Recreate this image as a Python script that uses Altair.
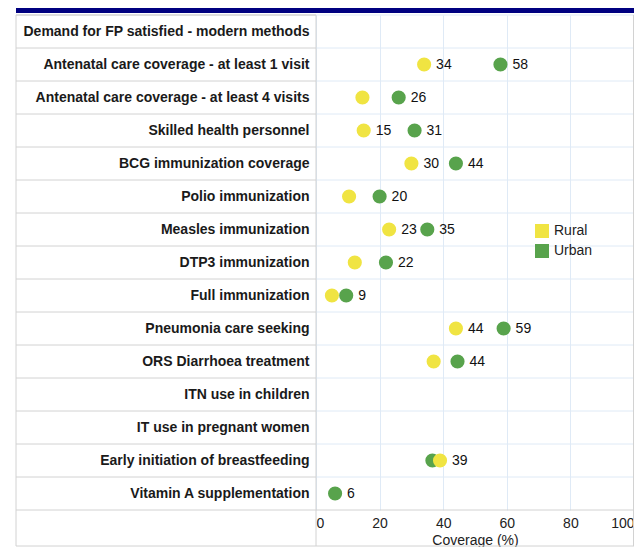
import altair as alt
import pandas as pd

categories = [
    "Demand for FP satisfied - modern methods",
    "Antenatal care coverage - at least 1 visit",
    "Antenatal care coverage - at least 4 visits",
    "Skilled health personnel",
    "BCG immunization coverage",
    "Polio immunization",
    "Measles immunization",
    "DTP3 immunization",
    "Full immunization",
    "Pneumonia care seeking",
    "ORS Diarrhoea treatment",
    "ITN use in children",
    "IT use in pregnant women",
    "Early initiation of breastfeeding",
    "Vitamin A supplementation",
]
rural = [None, 34, 14.6, 15, 30, 10.4, 23, 12.2, 5, 44, 37, None, None, 39, None]
urban = [None, 58, 26, 31, 44, 20, 35, 22, 9.5, 59, 44.5, None, None, 36.6, 6]
rural_labels = [None, "34", None, "15", "30", None, "23", None, None, "44", None, None, None, "39", None]
urban_labels = [None, "58", "26", "31", "44", "20", "35", "22", "9", "59", "44", None, None, None, "6"]
series = ["Rural", "Urban"]
colors = ["#F0E442", "#58A34C"]
x_ticks = [0, 20, 40, 60, 80, 100]

rows = []
for i, c in enumerate(categories):
    for s, vals, labs in (("Rural", rural, rural_labels), ("Urban", urban, urban_labels)):
        if vals[i] is not None:
            rows.append({"indicator": c, "series": s, "value": vals[i], "label": labs[i] or ""})
df = pd.DataFrame(rows)
cats_df = pd.DataFrame({"indicator": categories})
one = pd.DataFrame({"a": [0]})

W = 318
ROW = 33.0
H = round(ROW * len(categories))
LEFT = 300
BOTTOM = 37
FONT = "Liberation Sans"
FS = 14
GRAY = "#d2d2d2"
LIGHT = "#dfeaf6"

yenc = alt.Y(
    "indicator:N",
    sort=categories,
    scale=alt.Scale(domain=categories, paddingInner=0, paddingOuter=0),
    axis=alt.Axis(
        title=None, labelFont=FONT, labelFontWeight="bold", labelFontSize=FS,
        labelColor="#1a1a1a", labelPadding=7, ticks=False, domain=False,
        grid=False, labelLimit=320,
    ),
)
xenc = alt.X(
    "value:Q",
    scale=alt.Scale(domain=[0, 100], nice=False),
    axis=alt.Axis(
        values=x_ticks, title="Coverage (%)", labelFont=FONT, labelFontSize=FS,
        labelColor="#222222", labelFlush=True, ticks=False, domain=False,
        grid=True, gridColor=LIGHT, labelPadding=6, titleFont=FONT,
        titleFontSize=FS, titleFontWeight="normal", titleColor="#222222",
        titlePadding=3,
    ),
)

row_grid = alt.Chart(cats_df).mark_rule(color=LIGHT, strokeWidth=1).encode(
    y=alt.Y("indicator:N", sort=categories, bandPosition=0),
    x=alt.value(0), x2=alt.value(W),
)
row_left = alt.Chart(cats_df).mark_rule(color=GRAY, strokeWidth=1).encode(
    y=alt.Y("indicator:N", sort=categories, bandPosition=0),
    x=alt.value(-LEFT), x2=alt.value(0),
)
hlines = [
    alt.Chart(one).mark_rule(color=GRAY).encode(x=alt.value(-LEFT), x2=alt.value(W), y=alt.value(H)),
    alt.Chart(one).mark_rule(color=GRAY).encode(x=alt.value(-LEFT), x2=alt.value(W), y=alt.value(H + BOTTOM - 1)),
    alt.Chart(one).mark_rule(color=GRAY).encode(x=alt.value(-LEFT), x2=alt.value(0), y=alt.value(0)),
]
vlines = [
    alt.Chart(one).mark_rule(color=GRAY).encode(x=alt.value(xv), y=alt.value(0), y2=alt.value(H + BOTTOM - 1))
    for xv in (-LEFT, 0, W - 0.5)
]
topbar = alt.Chart(one).mark_rect(color="#000080").encode(
    x=alt.value(-LEFT), x2=alt.value(W), y=alt.value(-7), y2=alt.value(-2)
)

points = alt.Chart(df).mark_circle(size=200, opacity=1).encode(
    x=xenc,
    y=yenc,
    color=alt.Color(
        "series:N",
        scale=alt.Scale(domain=series, range=colors),
        legend=alt.Legend(
            title=None, orient="none", legendX=218, legendY=208,
            symbolType="square", symbolSize=196, symbolOpacity=1,
            labelFont=FONT, labelFontSize=FS, labelColor="#222222",
            labelOffset=4, rowPadding=5, padding=0,
        ),
    ),
    order=alt.Order("value:Q"),
)
labels = alt.Chart(df).mark_text(
    align="left", baseline="middle", dx=12, font=FONT, fontSize=FS, color="#111111"
).encode(
    x=alt.X("value:Q"), y=alt.Y("indicator:N", sort=categories), text="label:N"
)

chart = alt.layer(
    row_grid, row_left, *hlines, *vlines, topbar, points, labels
).properties(
    width=W, height=H,
    padding={"left": LEFT + 8, "top": 7, "right": 0, "bottom": BOTTOM},
    autosize=alt.AutoSizeParams(type="none"),
).configure_view(stroke=None)

chart.save("out.html", embed_options={"renderer": "svg", "actions": False})
